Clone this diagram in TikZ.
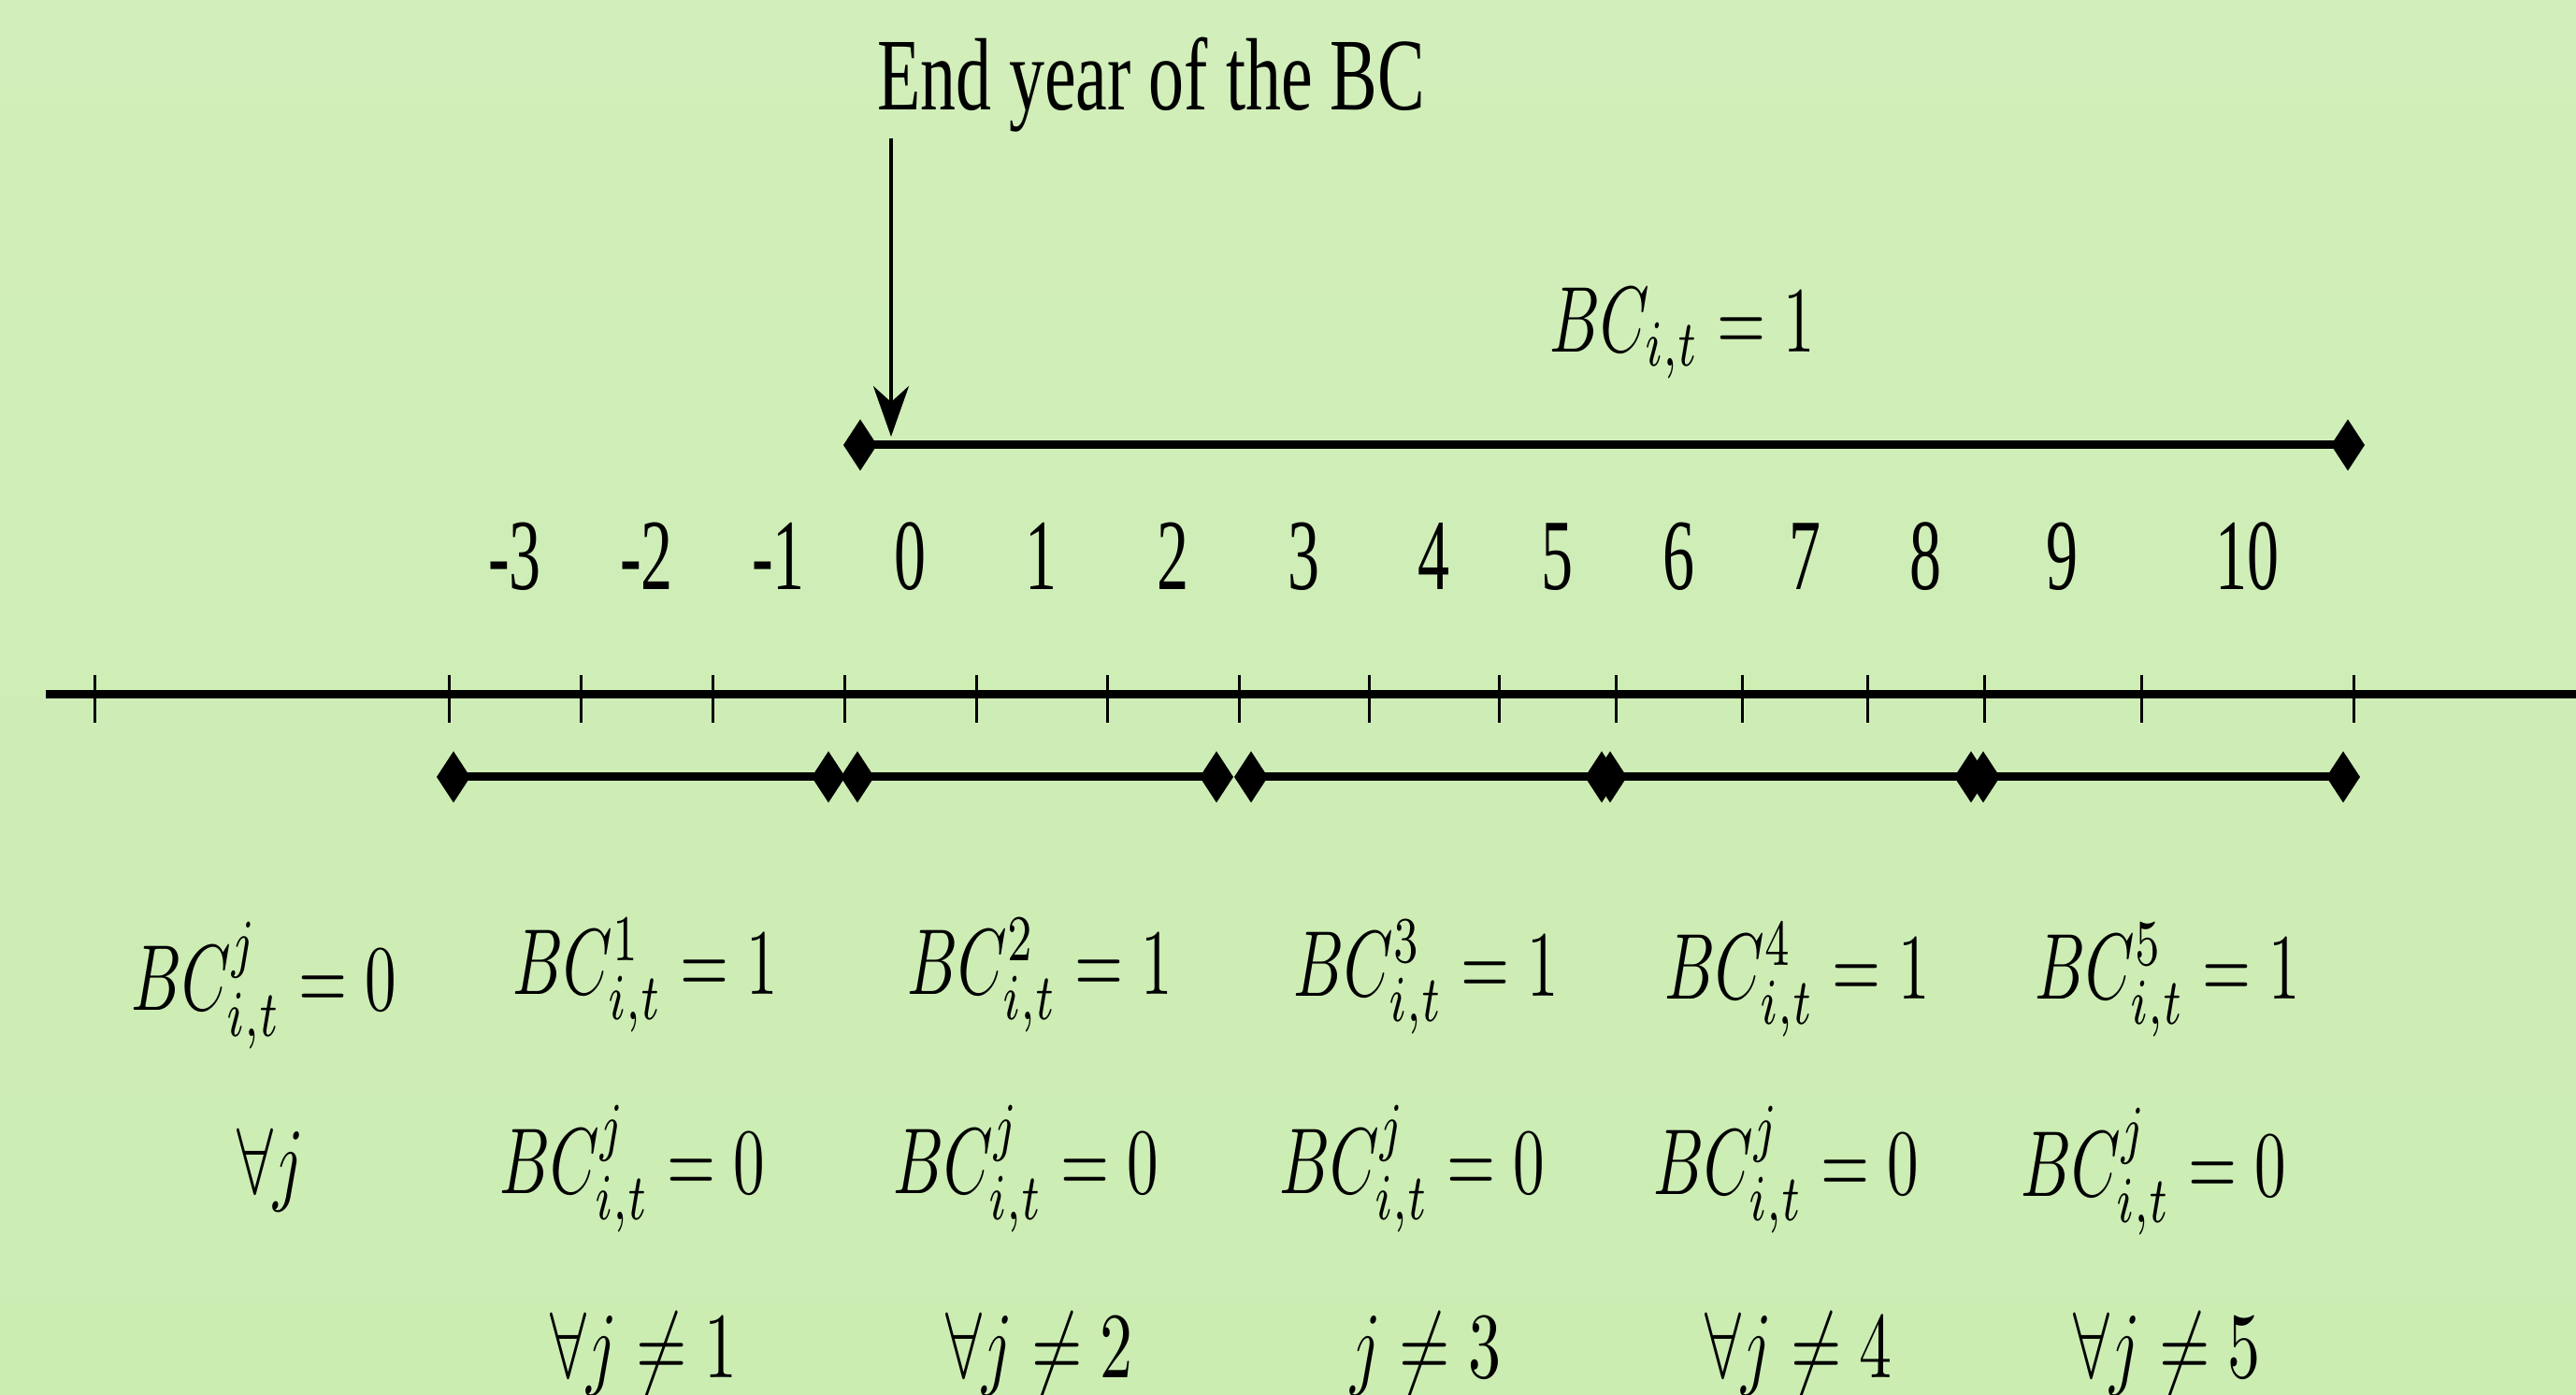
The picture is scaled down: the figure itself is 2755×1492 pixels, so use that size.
\documentclass[tikz,border=0pt]{standalone}
\usepackage{fontspec}
\setmainfont{Liberation Serif}
\usetikzlibrary{arrows.meta}
\definecolor{bgtop}{RGB}{210,238,186}
\definecolor{bgbot}{RGB}{203,237,178}
\newcommand\sqz[2]{\scalebox{#1}[1]{#2}}
\begin{document}
\begin{tikzpicture}[x=0.1pt,y=-0.1pt,
  axisline/.style={line width=0.9pt},
  tickline/.style={line width=0.3pt},
  seg/.style={line width=0.9pt,{Diamond[length=3.6pt,width=5.5pt]}-{Diamond[length=3.6pt,width=5.5pt]}},
  pointer/.style={line width=0.4pt,-{Stealth[length=5.4pt,width=3.8pt,inset=1.7pt]}},
  yearlab/.style={anchor=base,inner sep=0pt,font=\fontsize{10.8}{13}\selectfont},
  titlelab/.style={anchor=base,inner sep=0pt,font=\fontsize{11}{13}\selectfont},
  mathlab/.style={anchor=base,inner sep=0pt,font=\fontsize{10}{12}\selectfont},
]
\fill[bgbot] (0,0) rectangle (2755,1492);
\shade[top color=bgtop,bottom color=bgbot] (0,0) rectangle (2755,1492);
\useasboundingbox (0,0) rectangle (2755,1492);

% main time axis
\coordinate (axL) at (49,743);
\coordinate (axR) at (2755,743);
\draw[axisline] (axL) -- (axR);
\foreach \x [count=\i] in {101,480,621,762,903,1044,1184,1325,1464,1603,1728,1863,1997,2122,2290,2517}{
  \coordinate (tk\i) at (\x,743);
  \draw[tickline] (\x,722) -- (\x,773);
}

% year labels
\foreach \lab/\a/\b [count=\i] in {-3/480/621,-2/621/762,-1/762/903,0/903/1044,1/1044/1184,2/1184/1325,3/1325/1464,4/1464/1603,5/1603/1728,6/1728/1863,7/1863/1997,8/1997/2122,9/2122/2290,10/2290/2517}{
  \node[yearlab] (yr\i) at ({(\a+\b)/2},631) {\sqz{0.63}{\lab}};
}

% title and pointer
\node[titlelab] (title) at (1231,118) {\sqz{0.69}{End year of the BC}};
\coordinate (ptrTop) at (953,148);
\coordinate (ptrTip) at (953,467);
\draw[pointer] (ptrTop) -- (ptrTip);

% upper segment
\coordinate (bcL) at (902,476);
\coordinate (bcR) at (2529,476);
\draw[seg] (bcL) -- (bcR);
\node[mathlab] (bcall) at (1799,377) {\sqz{0.67}{$BC_{i,t} = 1$}};

% lower segments
\foreach \a/\b [count=\i] in {467/904,899/1319,1320/1731,1704/2126,2103/2524}{
  \coordinate (sL\i) at (\a,831);
  \coordinate (sR\i) at (\b,831);
  \draw[seg] (sL\i) -- (sR\i);
}

% labels below
\node[mathlab] (r1c0) at (282,1081) {\sqz{0.67}{$BC^{j}_{i,t} = 0$}};
\node[mathlab] (r2c0) at (289,1277) {\sqz{0.7}{$\forall j$}};
\foreach \k/\x/\ya/\xb/\yb/\xc in {1/690/1064/676/1277/689,2/1112/1064/1097/1277/1112,4/1922/1069/1910/1278/1924,5/2318/1069/2303/1280/2318}{
  \node[mathlab] (r1c\k) at (\x,\ya) {\sqz{0.67}{$BC^{\k}_{i,t} = 1$}};
  \node[mathlab] (r2c\k) at (\xb,\yb) {\sqz{0.67}{$BC^{j}_{i,t} = 0$}};
  \node[mathlab] (r3c\k) at (\xc,1474) {\sqz{0.7}{$\forall j \neq \k$}};
}
\node[mathlab] (r1c3) at (1525,1066) {\sqz{0.67}{$BC^{3}_{i,t} = 1$}};
\node[mathlab] (r2c3) at (1510,1277) {\sqz{0.67}{$BC^{j}_{i,t} = 0$}};
\node[mathlab] (r3c3) at (1525,1474) {\sqz{0.7}{$j \neq 3$}};
\end{tikzpicture}
\end{document}
